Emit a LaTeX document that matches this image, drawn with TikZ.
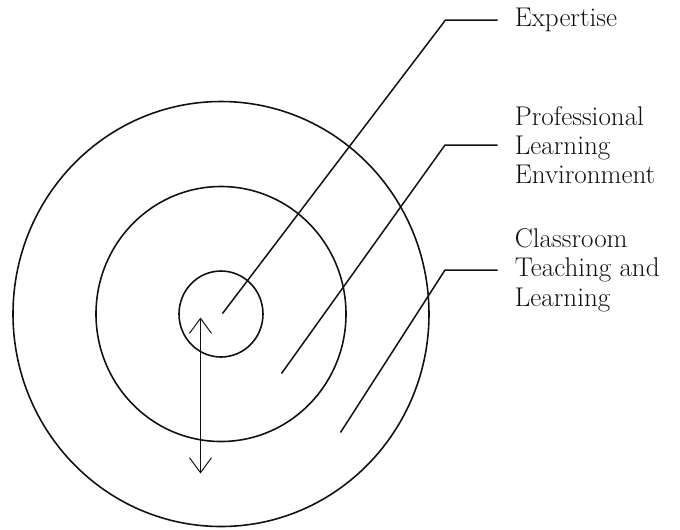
\documentclass[tikz,border=0pt]{standalone}
\usepackage{tikz}
\usetikzlibrary{arrows.meta}
\definecolor{ink}{HTML}{111111}
\tikzset{
  ring/.style={draw=ink, line width=0.9pt},
  lead/.style={draw=ink, line width=0.85pt, line join=miter},
  span/.style={draw=ink, line width=0.55pt,
    {Straight Barb[length=3mm,width=4.4mm]}-{Straight Barb[length=3mm,width=4.4mm]}},
  lab/.style={text=ink, font=\fontsize{15.4}{16.7}\selectfont, align=left,
    anchor=west, inner xsep=3.4mm, inner ysep=0pt},
}

\begin{document}
\begin{tikzpicture}
  \useasboundingbox (-4.42,-4.30) rectangle (9.18,6.28);
  \coordinate (O) at (0,0);

  % the three rings
  \draw[ring] (O) ellipse [x radius=4.16, y radius=4.25];
  \draw[ring] (O) ellipse [x radius=2.50, y radius=2.55];
  \draw[ring] (O) ellipse [x radius=0.84, y radius=0.86];

  % labels
  \node[lab] (E) at (5.53,5.88) {Expertise};
  \node[lab] (P) at (5.53,3.38) {Professional\\Learning\\Environment};
  \node[lab] (C) at (5.53,0.88) {Classroom\\Teaching and\\Learning};

  % leader lines
  \coordinate (E0) at (0.03,0.01);
  \coordinate (E1) at (4.49,5.88);
  \coordinate (P0) at (1.21,-1.19);
  \coordinate (P1) at (4.48,3.38);
  \coordinate (C0) at (2.39,-2.37);
  \coordinate (C1) at (4.48,0.88);
  \draw[lead] (E0) -- (E1) -- (E.west);
  \draw[lead] (P0) -- (P1) -- (P.west);
  \draw[lead] (C0) -- (C1) -- (C.west);

  % two-way arrow
  \coordinate (A0) at (-0.41,-0.07);
  \coordinate (A1) at (-0.41,-3.19);
  \draw[span] (A0) -- (A1);
\end{tikzpicture}
\end{document}
